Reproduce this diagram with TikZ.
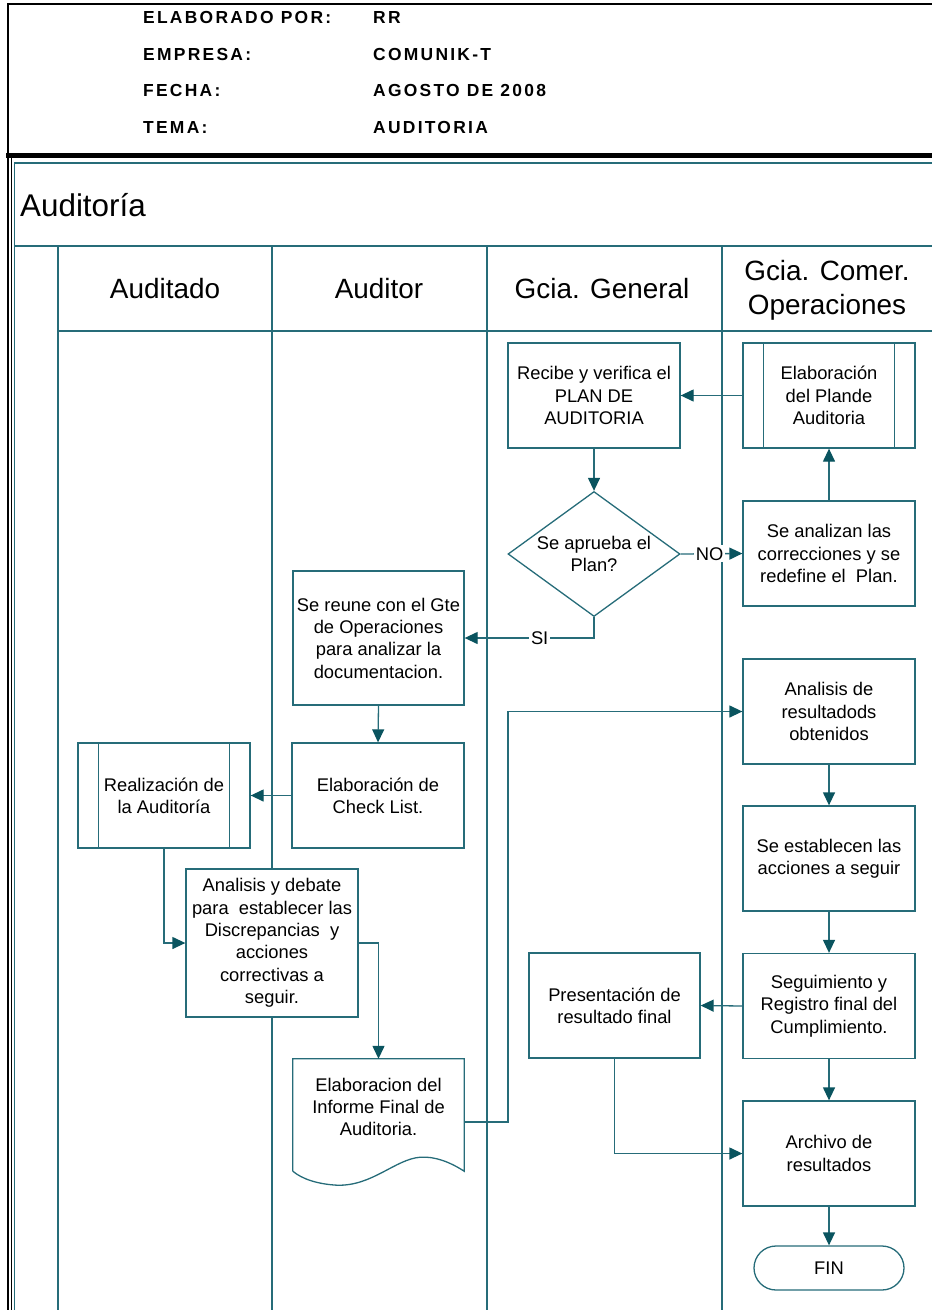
\documentclass[tikz,border=0pt]{standalone}
\usepackage{fontspec}
\setmainfont{Liberation Sans}
\newfontfamily\hdrfamily[LetterSpace=13,UprightFont={* Bold}]{Liberation Sans}
\usetikzlibrary{arrows.meta,shapes.geometric,calc}
\definecolor{lane}{RGB}{38,108,121}
\definecolor{tip}{RGB}{10,84,95}
\newcommand{\boxfont}{\fontsize{18.4}{22.4}\selectfont}
\newcommand{\lanefont}{\fontsize{28}{34}\selectfont}
\newcommand{\hdrfont}{\hdrfamily\fontsize{17.5}{19}\selectfont}

\begin{document}
\begin{tikzpicture}[x=1bp,y=-1bp,
  laneline/.style={draw=lane,line width=1.4bp},
  stepbox/.style={draw=lane,fill=white,line width=1.3bp,minimum width=172bp,
    minimum height=105bp,inner sep=0pt,align=center,font=\boxfont},
  procbox/.style={stepbox},
  decision/.style={diamond,draw=lane,fill=white,line width=1.3bp,aspect=1.376,
    minimum width=172bp,minimum height=125bp,inner sep=-2bp,align=center,font=\boxfont},
  terminal/.style={draw=lane,fill=white,line width=1.3bp,rounded corners=22bp,
    minimum width=150bp,minimum height=44bp,inner sep=0pt,font=\boxfont},
  doctext/.style={minimum width=171bp,minimum height=96bp,inner sep=0pt,align=center,font=\boxfont},
  flow/.style={draw=lane,line width=1.3bp,-{Triangle[length=13bp,width=12bp,color=tip]}},
  flowlabel/.style={fill=white,inner sep=2bp,font=\boxfont},
  hdr/.style={anchor=west,inner sep=0pt,font=\hdrfont},
  lanehead/.style={inner sep=0pt,align=center,font=\lanefont},
]
\useasboundingbox (0,0) rectangle (931,1310);

% ---- title block ----
\draw[black,line width=2bp] (8.3,1310) -- (8.3,4) -- (940,4);
\draw[black,line width=5bp] (6,156) -- (940,156);
\draw[black,line width=1.7bp] (11.6,158) -- (11.6,1310);

\node[hdr] (k1) at (143,18)  {ELABORADO POR:};
\node[hdr] (v1) at (373,18)  {RR};
\node[hdr] (k2) at (143,55)  {EMPRESA:};
\node[hdr] (v2) at (373,55)  {COMUNIK-T};
\node[hdr] (k3) at (143,91)  {FECHA:};
\node[hdr] (v3) at (373,91)  {AGOSTO DE 2008};
\node[hdr] (k4) at (143,128) {TEMA:};
\node[hdr] (v4) at (373,128) {AUDITORIA};

% ---- pool and lanes ----
\draw[laneline] (14.7,1310) -- (14.7,163) -- (940,163);
\draw[draw=lane,line width=2.6bp] (14.7,246) -- (940,246);
\draw[laneline] (58,331) -- (940,331);
\foreach \lx in {58,272,487,722}
  \draw[laneline] (\lx,246) -- (\lx,1310);

\node[anchor=west,inner sep=0pt,font=\fontsize{31.5}{36}\selectfont] (title) at (20,205) {Auditoría};

\node[lanehead] (ln1) at (165,289) {Auditado};
\node[lanehead] (ln2) at (379,289) {Auditor};
\node[lanehead] (ln3) at (602,289) {Gcia. General};
\node[lanehead] (ln4) at (827,290) {Gcia. Comer.\\Operaciones};

% ---- steps ----
\node[stepbox] (recibe) at (594,395.5) {Recibe y verifica el\\PLAN DE\\AUDITORIA};
\node[procbox] (elabplan) at (829,395.5) {Elaboración\\del Plande\\Auditoria};
\node[decision] (aprueba) at (594,554) {Se aprueba el\\Plan?};
\node[stepbox] (analiza) at (829,553.5) {Se analizan las\\correcciones y se\\redefine el\ \ Plan.};
\node[stepbox,minimum width=171bp,minimum height=134bp] (reune) at (378.5,638)
  {Se reune con el Gte\\de Operaciones\\para analizar la\\documentacion.};
\node[stepbox] (check) at (378,795.5) {Elaboración de\\Check List.};
\node[procbox] (realiza) at (164,795.5) {Realización de\\la Auditoría};
\node[stepbox,minimum height=148bp] (debate) at (272,943)
  {Analisis y debate\\para\ \ establecer las\\Discrepancias\ \ y\\acciones\\correctivas a\\seguir.};
\node[doctext] (doc) at (378.5,1107) {Elaboracion del\\Informe Final de\\Auditoria.};
\node[stepbox] (analres) at (829,711.5) {Analisis de\\resultadods\\obtenidos};
\node[stepbox] (establece) at (829,858.5) {Se establecen las\\acciones a seguir};
\node[stepbox,minimum width=171bp] (present) at (614.5,1005.5) {Presentación de\\resultado final};
\node[stepbox] (seguim) at (829,1006) {Seguimiento y\\Registro final del\\Cumplimiento.};
\node[stepbox] (archivo) at (829,1153.5) {Archivo de\\resultados};
\node[terminal] (fin) at (829,1268) {FIN};

% side bars of the predefined-process boxes
\foreach \b in {elabplan,realiza} {
  \draw[draw=lane,line width=1.3bp] ([xshift=21bp]\b.north west) -- ([xshift=21bp]\b.south west);
  \draw[draw=lane,line width=1.3bp] ([xshift=-21bp]\b.north east) -- ([xshift=-21bp]\b.south east);
}

% document outline with wavy bottom
\draw[draw=lane,line width=1.3bp]
  ($(doc.south west)+(0,16)$) -- (doc.north west) -- (doc.north east) -- ($(doc.south east)+(0,16)$)
  .. controls ($(doc.south east)+(-14,7)$) and ($(doc.south east)+(-29,1)$) .. ($(doc.south east)+(-44,2)$)
  .. controls ($(doc.south east)+(-69,4)$) and ($(doc.south east)+(-92,31)$) .. ($(doc.south east)+(-127,30)$)
  .. controls ($(doc.south east)+(-146,29)$) and ($(doc.south east)+(-162,24)$) .. ($(doc.south west)+(0,16)$);

% ---- connectors ----
\coordinate (docout) at (464,1122);
\coordinate (upturn) at (508,1122);

\draw[flow] (elabplan.west) -- (recibe.east);
\draw[flow] (recibe.south) -- (aprueba.north);
\draw[flow] (aprueba.east) -- node[flowlabel,pos=0.47] {NO} (analiza.west);
\draw[flow] (analiza.north) -- (elabplan.south);
\draw[flow] (aprueba.south) |- node[flowlabel,pos=0.71] {SI} (reune.east);
\draw[flow] (reune.south) -- (check.north);
\draw[flow] (check.west) -- (realiza.east);
\draw[flow] (realiza.south) |- (debate.west);
\draw[flow] (debate.east) -| (doc.north);
\draw[flow] (docout) -- (upturn) |- (analres.west);
\draw[flow] (analres.south) -- (establece.north);
\draw[flow] (establece.south) -- (seguim.north);
\draw[flow] (seguim.west) -- (present.east);
\draw[flow] (present.south) |- (archivo.west);
\draw[flow] (seguim.south) -- (archivo.north);
\draw[flow] (archivo.south) -- (fin.north);
\end{tikzpicture}
\end{document}
